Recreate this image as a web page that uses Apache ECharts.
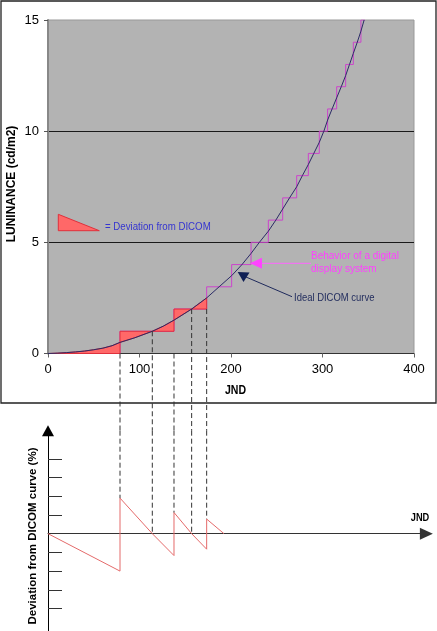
<!DOCTYPE html>
<html><head><meta charset="utf-8">
<script src="https://cdn.jsdelivr.net/npm/echarts@6/dist/echarts.min.js"></script>
<style>html,body{margin:0;padding:0;background:#fff}#c{width:437px;height:631px}</style>
</head><body><div id="c"></div>
<script>
// ---------- DATA ----------
// Ideal DICOM curve (JND -> luminance cd/m2)
const curveJND = [0, 10, 20, 30, 40, 50, 60, 70, 78.7, 95, 114, 126, 137.7, 157, 173.4, 187, 200.7, 212, 221.9, 231, 240.8, 249, 256.5, 264, 271.8, 278, 284.5, 290.5, 296.5, 301.5, 305.6, 310.5, 315.5, 320.5, 325.3, 329.5, 333.7, 338, 342, 345.5];
const curveLum = [0, 0.015, 0.04, 0.07, 0.11, 0.17, 0.24, 0.35, 0.5, 0.71, 1.0, 1.23, 1.5, 2.0, 2.5, 3.0, 3.5, 4.0, 4.5, 5.0, 5.5, 6.0, 6.5, 7.0, 7.5, 8.0, 8.5, 9.0, 9.5, 10.0, 10.5, 11.0, 11.5, 12.0, 12.5, 13.0, 13.5, 14.0, 14.5, 15.0];
// Digital display staircase (value holds from stepJND[i] until next step)
const stepJND = [0, 78.7, 137.7, 173.4, 200.7, 221.9, 240.8, 256.5, 271.8, 284.5, 296.5, 305.6, 315.5, 325.3, 333.7, 342, 346.5];
const stepLum = [0, 1, 2, 3, 4, 5, 6, 7, 8, 9, 10, 11, 12, 13, 14, 15, 15];
// Shaded deviation regions between curve and staircase
const regionStart = [0, 78.7, 114, 137.7, 157];
const regionEnd   = [78.7, 114, 137.7, 157, 173.4];
const regionLevel = [0, 1, 1, 2, 2];
// Deviation from DICOM curve (%) sawtooth
const devJND = [0, 78.7, 78.7, 114, 137.7, 137.7, 157, 173.4, 173.4, 192.3];
const devVal = [0, -2.0, 1.9, 0, -1.17, 1.13, 0, -0.83, 0.78, 0];
// Dashed connectors
const dashJND = [78.7, 114, 137.7, 157, 173.4];
const dashTopLum = [0, 1, 0, 2, 2];
const dashDev = [1.9, 0, 1.13, 0, 0.78];
// Axis ticks
const lumTicks = [0, 5, 10, 15];
const jndTicks = [0, 100, 200, 300, 400];
const devTicks = [-4, -3, -2, -1, 1, 2, 3, 4];

// ---------- LAYOUT ----------
const FONT = "'Liberation Sans', Arial, sans-serif";
const G2_TOP = 430.7;
const zip = (a, b) => a.map((v, i) => [v, b[i]]);

const chart = echarts.init(document.getElementById('c'), null, {renderer: 'canvas'});

const option = {
  animation: false,
  textStyle: {fontFamily: FONT},
  grid: [
    {left: 48, top: 20, width: 366, height: 333.5, show: true, backgroundColor: '#b3b3b3', borderColor: '#999', borderWidth: 1},
    {left: 48, top: G2_TOP, width: 378.35, height: 200.4, show: false}
  ],
  xAxis: [
    {gridIndex: 0, type: 'value', min: jndTicks[0], max: jndTicks[jndTicks.length - 1], interval: 100,
     axisLine: {show: true, lineStyle: {color: '#333', width: 1}},
     axisTick: {show: true, length: 4, lineStyle: {color: '#666'}},
     axisLabel: {fontSize: 13, color: '#000', margin: 9, fontFamily: FONT},
     splitLine: {show: false}},
    {gridIndex: 1, type: 'value', min: 0, max: 413.5,
     axisLine: {show: true, onZero: true, symbol: ['none', 'triangle'], symbolSize: [12, 13], lineStyle: {color: '#333', width: 1}},
     axisTick: {show: false}, axisLabel: {show: false}, splitLine: {show: false}}
  ],
  yAxis: [
    {gridIndex: 0, type: 'value', min: lumTicks[0], max: lumTicks[lumTicks.length - 1], interval: 5,
     axisLine: {show: true, lineStyle: {color: '#888', width: 2}},
     axisTick: {show: true, length: 4, lineStyle: {color: '#555'}},
     axisLabel: {fontSize: 13, color: '#000', margin: 9, fontFamily: FONT},
     splitLine: {show: true, showMinLine: false, showMaxLine: false, lineStyle: {color: '#1a1a1a', width: 1}}},
    {gridIndex: 1, type: 'value', min: -5.2, max: 5.5,
     axisLine: {show: true, onZero: true, symbol: ['none', 'triangle'], symbolSize: [12, 11], lineStyle: {color: '#000', width: 1}},
     axisTick: {show: true, inside: true, length: 14, customValues: devTicks, lineStyle: {color: '#333'}},
     axisLabel: {show: false}, splitLine: {show: false}}
  ],
  series: [
    {type: 'line', xAxisIndex: 0, yAxisIndex: 0, data: zip(stepJND, stepLum), step: 'end',
     symbol: 'none', lineStyle: {color: '#cc44cc', width: 1}, z: 2},
    {type: 'custom', xAxisIndex: 0, yAxisIndex: 0, z: 3,
     data: regionStart.map((s, i) => [s, regionEnd[i], regionLevel[i]]),
     encode: {x: [0, 1], y: 2},
     renderItem: function (params, api) {
       const x0 = api.value(0), x1 = api.value(1), lv = api.value(2);
       const pts = [api.coord([x0, lv])];
       for (let i = 0; i < curveJND.length; i++) {
         if (curveJND[i] >= x0 - 1e-6 && curveJND[i] <= x1 + 1e-6) pts.push(api.coord([curveJND[i], curveLum[i]]));
       }
       pts.push(api.coord([x1, lv]));
       return {type: 'polygon', shape: {points: pts}, style: {fill: '#ff6868', stroke: '#e0303c', lineWidth: 1}};
     }},
    {type: 'line', xAxisIndex: 0, yAxisIndex: 0, data: zip(curveJND, curveLum),
     symbol: 'none', lineStyle: {color: '#2b2b66', width: 1}, z: 4},
    {type: 'custom', xAxisIndex: 0, yAxisIndex: 0, z: 5, clip: false,
     data: zip(dashJND, dashTopLum),
     renderItem: function (params, api) {
       const p = api.coord([api.value(0), api.value(1)]);
       return {type: 'line', shape: {x1: p[0], y1: p[1], x2: p[0], y2: G2_TOP},
               style: {stroke: '#333', lineDash: [5, 3], lineWidth: 1}};
     }},
    {type: 'line', xAxisIndex: 1, yAxisIndex: 1, data: zip(devJND, devVal),
     symbol: 'none', lineStyle: {color: '#e46a6a', width: 1}, z: 4},
    {type: 'custom', xAxisIndex: 1, yAxisIndex: 1, z: 5, clip: false,
     data: zip(dashJND, dashDev),
     renderItem: function (params, api) {
       const p = api.coord([api.value(0), api.value(1)]);
       return {type: 'line', shape: {x1: p[0], y1: G2_TOP, x2: p[0], y2: p[1]},
               style: {stroke: '#333', lineDash: [5, 3], lineWidth: 1}};
     }}
  ],
  graphic: [
    {type: 'rect', shape: {x: 1, y: 1, width: 435, height: 402}, style: {fill: 'none', stroke: '#222', lineWidth: 1.3}, z: 1},
    {type: 'text', x: 12, y: 184, rotation: Math.PI / 2,
     style: {text: 'LUNINANCE (cd/m2)', font: 'bold 12px ' + FONT, fill: '#000', textAlign: 'center', textVerticalAlign: 'middle'}},
    {type: 'text', x: 235.5, y: 391, scaleX: 0.88,
     style: {text: 'JND', font: 'bold 12px ' + FONT, fill: '#000', textAlign: 'center', textVerticalAlign: 'middle'}},
    {type: 'polygon', shape: {points: [[58.3, 214.3], [58.3, 230.7], [99.3, 230.7]]},
     style: {fill: '#ff6868', stroke: '#e0303c', lineWidth: 1}, z: 10},
    {type: 'text', x: 105, y: 226.7, scaleX: 0.88, z: 10,
     style: {text: '= Deviation from DICOM', font: '11px ' + FONT, fill: '#3535d0', textAlign: 'left', textVerticalAlign: 'middle'}},
    {type: 'line', shape: {x1: 261, y1: 263.3, x2: 311, y2: 263.3}, style: {stroke: '#ff66ff', lineWidth: 1}, z: 10},
    {type: 'polygon', shape: {points: [[250, 263.3], [262, 257.8], [262, 268.8]]}, style: {fill: '#ff44ff'}, z: 10},
    {type: 'text', x: 311, y: 256, scaleX: 0.87, z: 10,
     style: {text: 'Behavior of a digital', font: '11.5px ' + FONT, fill: '#ff40ff', textAlign: 'left', textVerticalAlign: 'middle'}},
    {type: 'text', x: 311, y: 268.5, scaleX: 0.87, z: 10,
     style: {text: 'display system', font: '11.5px ' + FONT, fill: '#ff40ff', textAlign: 'left', textVerticalAlign: 'middle'}},
    {type: 'line', shape: {x1: 292, y1: 296.7, x2: 246, y2: 277}, style: {stroke: '#1f2a5c', lineWidth: 1}, z: 10},
    {type: 'polygon', shape: {points: [[237.7, 272], [249.5, 272.5], [243.5, 282]]}, style: {fill: '#0f1f55'}, z: 10},
    {type: 'text', x: 294, y: 298, scaleX: 0.86, z: 10,
     style: {text: 'Ideal DICOM curve', font: '11px ' + FONT, fill: '#1f2a5c', textAlign: 'left', textVerticalAlign: 'middle'}},
    {type: 'text', x: 33, y: 536, rotation: Math.PI / 2,
     style: {text: 'Deviation from DICOM curve (%)', font: 'bold 11.5px ' + FONT, fill: '#000', textAlign: 'center', textVerticalAlign: 'middle'}},
    {type: 'text', x: 420, y: 517.7, scaleX: 0.88,
     style: {text: 'JND', font: 'bold 10.5px ' + FONT, fill: '#000', textAlign: 'center', textVerticalAlign: 'middle'}}
  ]
};
chart.setOption(option);
</script>
</body></html>
